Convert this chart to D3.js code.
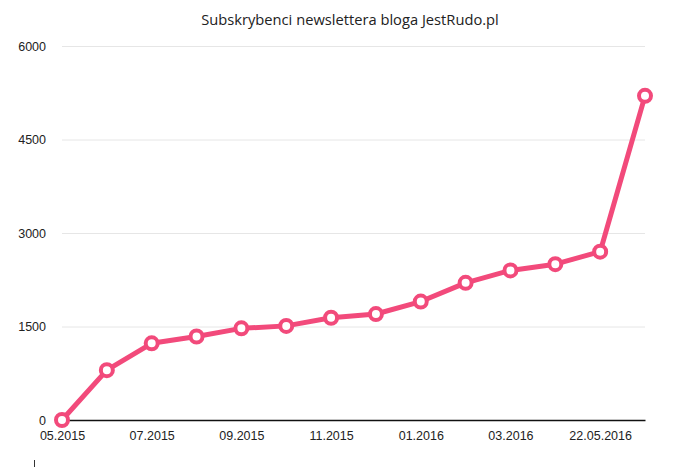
<!DOCTYPE html>
<html>
<head>
<meta charset="utf-8">
<script src="https://cdn.jsdelivr.net/npm/d3@7"></script>
<style>
  body { margin: 0; background: #fff; }
  svg { display: block; font-family: "Open Sans", sans-serif; }
</style>
</head>
<body>
<svg id="chart" width="680" height="467"></svg>
<script>
// Subscribers data
const months = ['05.2015', '06.2015', '07.2015', '08.2015', '09.2015', '10.2015', '11.2015',
    '12.2015', '01.2016', '02.2016', '03.2016', '04.2016', '22.05.2016', '23.05.2016'];
const subscribers = [0, 800, 1230, 1340, 1470, 1510, 1640, 1700, 1900, 2200, 2400, 2500, 2700, 5200];
const yTicks = [0, 1500, 3000, 4500, 6000];
const shownLabels = ['05.2015', '07.2015', '09.2015', '11.2015', '01.2016', '03.2016', '22.05.2016'];

const width = 680, height = 467;
const margin = { top: 46, right: 35, bottom: 47, left: 62 };
const lineColor = '#f24a7b';

const svg = d3.select('#chart');

const x = d3.scalePoint()
    .domain(months)
    .range([margin.left, width - margin.right]);

const y = d3.scaleLinear()
    .domain([0, 6000])
    .range([height - margin.bottom, margin.top]);

// Gridlines + y labels
const yAxis = d3.axisLeft(y)
    .tickValues(yTicks)
    .tickSize(-(width - margin.left - margin.right))
    .tickPadding(16)
    .tickFormat(d3.format('d'));

const gy = svg.append('g')
    .attr('transform', `translate(${margin.left},0)`)
    .call(yAxis);
gy.select('.domain').remove();
gy.selectAll('.tick line').attr('stroke', '#e6e6e6');
gy.selectAll('.tick text')
    .attr('fill', '#222')
    .style('font-size', '12.5px');
gy.selectAll('.tick')
    .filter(d => d === 0)
    .select('line').remove();

// X axis
const xAxis = d3.axisBottom(x)
    .tickValues(shownLabels)
    .tickSize(0)
    .tickPadding(11);

const gx = svg.append('g')
    .attr('transform', `translate(0,${height - margin.bottom})`)
    .call(xAxis);
gx.select('.domain').attr('stroke', '#111').attr('stroke-width', 1.6);
gx.selectAll('.tick text')
    .attr('fill', '#222')
    .style('font-size', '12.5px');

// Line
const line = d3.line()
    .x((d, i) => x(months[i]))
    .y(d => y(d));

svg.append('path')
    .datum(subscribers)
    .attr('fill', 'none')
    .attr('stroke', lineColor)
    .attr('stroke-width', 5)
    .attr('stroke-linejoin', 'round')
    .attr('d', line);

// Markers
svg.selectAll('.dot')
    .data(subscribers)
    .enter()
    .append('circle')
    .attr('class', 'dot')
    .attr('cx', (d, i) => x(months[i]))
    .attr('cy', d => y(d))
    .attr('r', 6)
    .attr('fill', '#fff')
    .attr('stroke', lineColor)
    .attr('stroke-width', 4);

// Title
svg.append('text')
    .attr('x', 350)
    .attr('y', 25)
    .attr('text-anchor', 'middle')
    .style('font-size', '14.7px')
    .attr('fill', '#222')
    .text('Subskrybenci newslettera bloga JestRudo.pl');

// small stray mark at bottom left
svg.append('line')
    .attr('x1', 34.5).attr('x2', 34.5)
    .attr('y1', 460).attr('y2', 467)
    .attr('stroke', '#333')
    .attr('stroke-width', 1);
</script>
</body>
</html>
